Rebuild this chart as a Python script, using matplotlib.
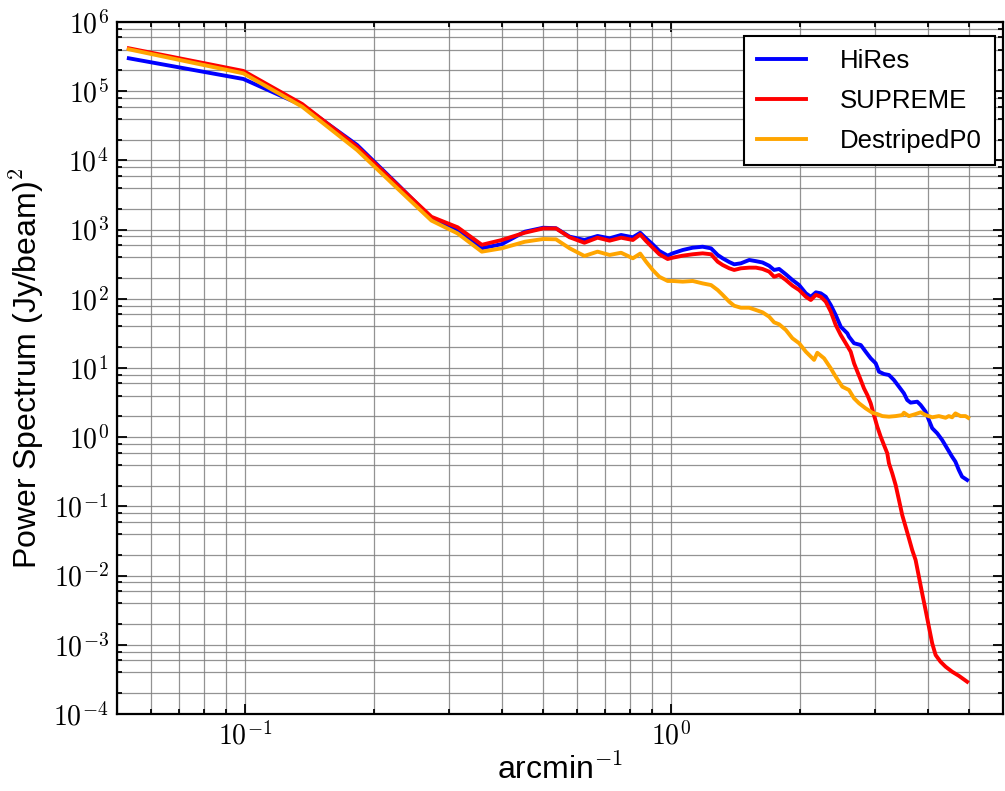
import numpy as np
import matplotlib
matplotlib.use("Agg")
import matplotlib.pyplot as plt
from matplotlib.ticker import LogLocator, NullFormatter, FuncFormatter

plt.rcParams['font.family'] = ['Liberation Sans', 'DejaVu Sans']
plt.rcParams['mathtext.fontset'] = 'cm'

# spatial frequency (arcmin^-1) and power spectra (Jy/beam)^2
freq_hires = [0.0533, 0.099, 0.136, 0.183, 0.228, 0.2735, 0.315, 0.359, 0.40, 0.453,
              0.50, 0.536, 0.577, 0.625, 0.671, 0.716, 0.762, 0.812, 0.845,
              0.872, 0.904, 0.937, 0.98, 1.007, 1.063, 1.122, 1.184, 1.239, 1.284,
              1.319, 1.367, 1.404, 1.456, 1.523, 1.579, 1.636, 1.696, 1.742, 1.79,
              1.856, 1.923, 1.994, 2.068, 2.124, 2.183, 2.242, 2.303, 2.366, 2.43,
              2.497, 2.588, 2.611, 2.683, 2.782, 2.857, 2.936, 3.016, 3.07, 3.154,
              3.24, 3.328, 3.42, 3.513, 3.576, 3.642, 3.775, 3.845, 3.949, 4.02,
              4.093, 4.205, 4.319, 4.437, 4.558, 4.64, 4.726, 4.81, 4.943]
hires = [2.99e5, 1.50e5, 6.25e4, 1.67e4, 4.47e3, 1.46e3, 1.0e3, 537, 617, 933,
         1064, 1047, 791, 708, 809, 748, 836, 774, 900,
         748, 612, 491, 420, 454, 507, 548, 566, 536, 430,
         385, 340, 315, 326, 364, 350, 335, 300, 261, 270,
         226, 187, 158, 120, 107, 124, 120, 107, 81.3, 58.3,
         39.5, 31.7, 28.3, 22.8, 21.5, 17.2, 13.8, 11.7, 8.85, 8.19,
         7.93, 6.71, 5.37, 4.31, 3.45, 3.16, 3.26, 2.92, 2.34, 1.77,
         1.35, 1.14, 0.911, 0.69, 0.522, 0.443, 0.336, 0.269, 0.241]

freq_supreme = [0.0533, 0.099, 0.136, 0.183, 0.228, 0.2735, 0.315, 0.359, 0.40, 0.453,
                0.50, 0.536, 0.577, 0.625, 0.671, 0.716, 0.762, 0.812, 0.845,
                0.872, 0.904, 0.937, 0.98, 1.007, 1.063, 1.122, 1.184, 1.239, 1.284,
                1.319, 1.367, 1.404, 1.456, 1.523, 1.579, 1.636, 1.696, 1.742, 1.79,
                1.856, 1.923, 1.994, 2.068, 2.124, 2.183, 2.242, 2.303, 2.366, 2.43,
                2.497, 2.565, 2.635, 2.683, 2.732, 2.782, 2.831, 2.883, 2.936, 2.988,
                3.042, 3.098, 3.154, 3.211, 3.24, 3.298, 3.359, 3.42, 3.481, 3.545,
                3.609, 3.674, 3.742, 3.809, 3.877, 3.949, 4.02, 4.093, 4.169, 4.281,
                4.4, 4.558, 4.726, 4.943]
supreme = [4.17e5, 1.96e5, 6.53e4, 1.58e4, 4.37e3, 1.53e3, 1.08e3, 603, 708, 902,
           1040, 1040, 774, 646, 764, 692, 764, 708, 850,
           684, 548, 440, 376, 393, 420, 440, 454, 440, 344,
           308, 276, 261, 276, 282, 282, 270, 247, 208, 221,
           187, 155, 134, 107, 96.1, 114, 107, 90.8, 65.2, 41.8,
           30.0, 22.8, 17.2, 11.7, 8.85, 6.71, 5.08, 4.07, 3.09, 2.09,
           1.42, 1.02, 0.771, 0.585, 0.42, 0.301, 0.204, 0.124, 0.0751, 0.0509,
           0.0346, 0.0234, 0.0168, 0.00964, 0.00555, 0.00318, 0.00183, 0.00105, 0.000713, 0.00057,
           0.000483, 0.000409, 0.000357, 0.000293]

freq_destriped = [0.0533, 0.099, 0.136, 0.183, 0.228, 0.2735, 0.315, 0.359, 0.40, 0.453,
                  0.50, 0.536, 0.577, 0.625, 0.671, 0.716, 0.762, 0.812, 0.845,
                  0.872, 0.904, 0.937, 0.98, 1.007, 1.063, 1.122, 1.184, 1.239, 1.284,
                  1.319, 1.367, 1.404, 1.456, 1.523, 1.579, 1.636, 1.696, 1.742, 1.79,
                  1.856, 1.923, 1.994, 2.068, 2.162, 2.2, 2.282, 2.366, 2.43, 2.518,
                  2.611, 2.683, 2.757, 2.857, 2.961, 3.042, 3.126, 3.24, 3.359, 3.481,
                  3.513, 3.609, 3.742, 3.845, 3.949, 4.093, 4.243, 4.4, 4.477, 4.558,
                  4.64, 4.768, 4.9, 4.97]
destriped = [4.03e5, 1.81e5, 5.97e4, 1.41e4, 3.89e3, 1.35e3, 881, 480, 537, 668,
             731, 724, 537, 416, 480, 430, 463, 385, 450,
             344, 261, 208, 181, 181, 177, 181, 167, 158, 134,
             114, 90.8, 79.4, 74.3, 74.3, 68.9, 63.8, 55.1, 45.7, 42.8,
             35.4, 26.9, 22.8, 17.2, 13.1, 16.6, 13.8, 9.89, 7.48, 5.37,
             4.81, 3.65, 3.09, 2.61, 2.26, 2.16, 2.02, 1.98, 2.02, 2.09,
             2.26, 2.02, 2.16, 2.29, 2.09, 1.94, 2.02, 1.91, 2.02, 1.94,
             2.21, 2.02, 2.02, 1.91]

fig = plt.figure(figsize=(10.05, 7.91), dpi=100)
ax = fig.add_axes([0.1164, 0.0973, 0.8816, 0.8749])

ax.plot(freq_hires, hires, color='blue', lw=2.8, label='HiRes')
ax.plot(freq_supreme, supreme, color='red', lw=2.8, label='SUPREME')
ax.plot(freq_destriped, destriped, color='orange', lw=2.8, label='DestripedP0')

ax.set_xscale('log')
ax.set_yscale('log')
ax.set_xlim(0.05, 6)
ax.set_ylim(1e-4, 1e6)

ax.xaxis.set_major_locator(LogLocator(base=10, numticks=20))
ax.xaxis.set_minor_locator(LogLocator(base=10, subs=np.arange(2, 10), numticks=50))
ax.yaxis.set_major_locator(LogLocator(base=10, numticks=20))
ax.yaxis.set_minor_locator(LogLocator(base=10, subs=[2, 4, 6, 8], numticks=50))
fmt = FuncFormatter(lambda v, p: r'$10^{%d}$' % int(round(np.log10(v))))
ax.xaxis.set_major_formatter(fmt)
ax.yaxis.set_major_formatter(fmt)
ax.xaxis.set_minor_formatter(NullFormatter())
ax.yaxis.set_minor_formatter(NullFormatter())

ax.tick_params(which='both', direction='in', top=True, right=True, width=1.3)
ax.tick_params(which='major', length=7, labelsize=20, pad=6)
ax.tick_params(which='minor', length=3.5)
for s in ax.spines.values():
    s.set_linewidth(1.6)

ax.grid(True, which='both', color='gray', lw=0.9, alpha=0.85)
ax.set_axisbelow(True)

ax.set_xlabel('arcmin$^{-1}$', fontsize=23, labelpad=2)
ax.set_ylabel('Power Spectrum (Jy/beam)$^2$', fontsize=23, labelpad=5)

leg = ax.legend(loc='upper right', bbox_to_anchor=(0.991, 0.98), fontsize=18.5,
                fancybox=False, framealpha=1, edgecolor='black',
                handlelength=1.9, handletextpad=1.35, borderpad=0.5,
                labelspacing=0.62, borderaxespad=0.0)
leg.get_frame().set_linewidth(1.5)

fig.savefig('out.png', dpi=100)
